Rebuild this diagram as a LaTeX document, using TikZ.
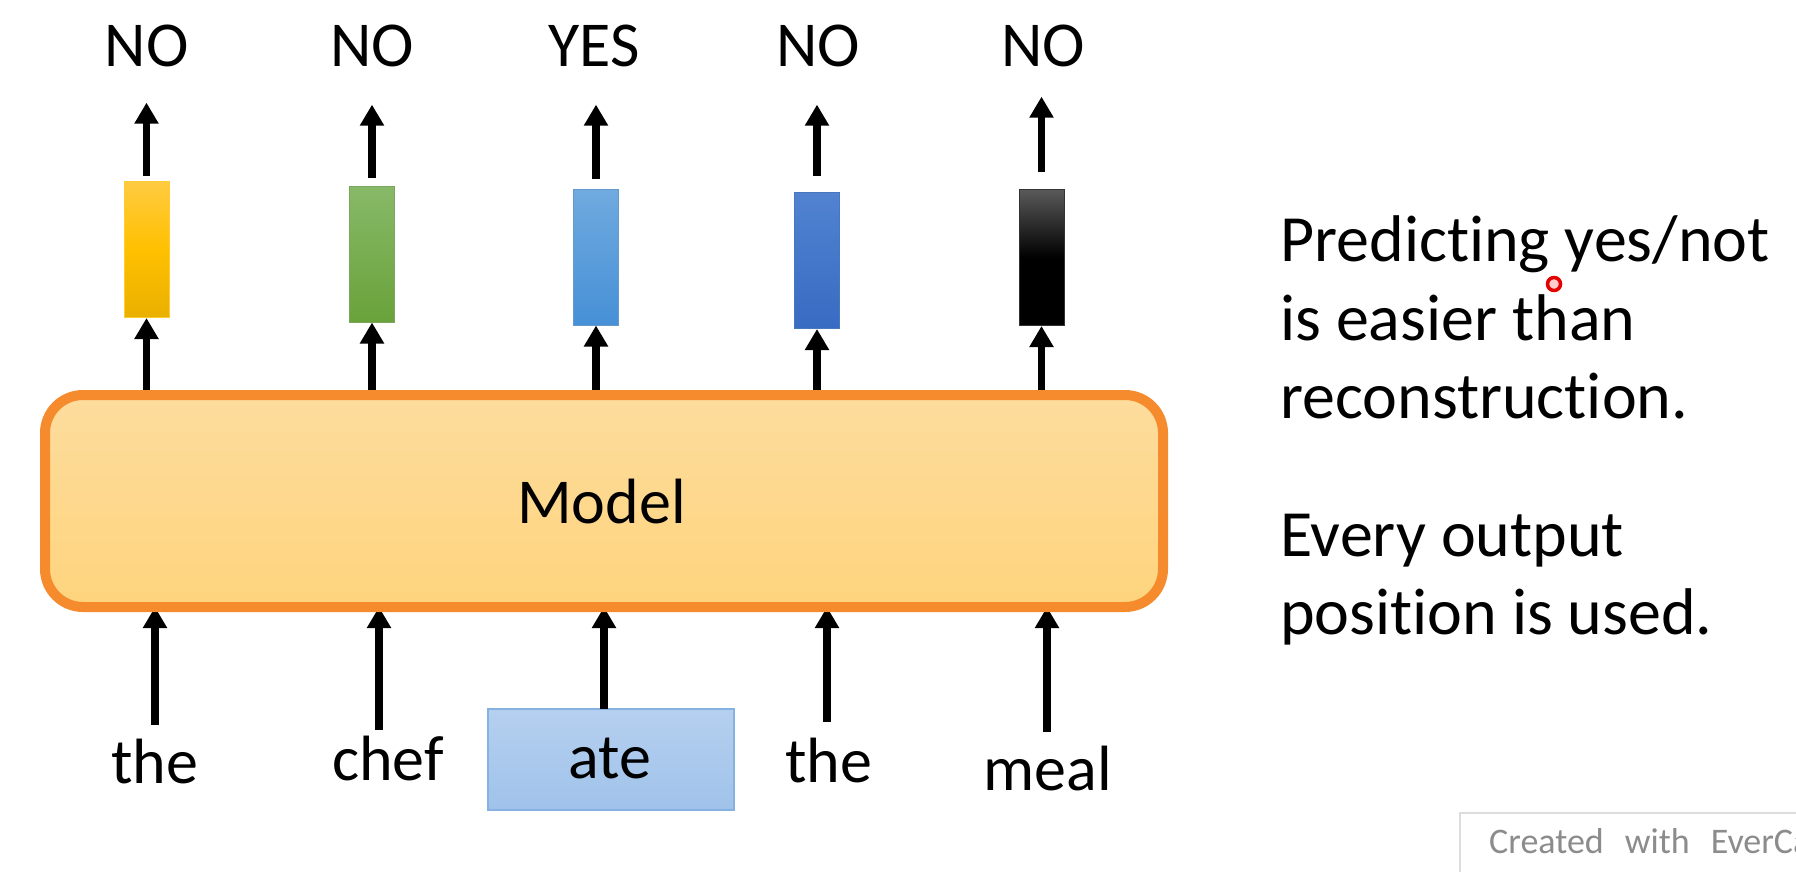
\documentclass[tikz,border=0pt]{standalone}
\usepackage{fontspec}
\setmainfont[Ligatures=NoCommon, RawFeature={-liga;-dlig;-clig}]{Carlito}
\usetikzlibrary{arrows.meta,shadings}
\definecolor{boxborder}{HTML}{F58B2C}
\definecolor{boxtop}{HTML}{FDDC9D}
\definecolor{boxbot}{HTML}{FED47D}
\definecolor{atetop}{HTML}{B5D0EF}
\definecolor{atebot}{HTML}{A0C2EA}
\definecolor{ateborder}{HTML}{86B2E3}
\definecolor{ytop}{HTML}{FFCB40}
\definecolor{ymid}{HTML}{FFC000}
\definecolor{ybot}{HTML}{EAB000}
\definecolor{gtop}{HTML}{88B968}
\definecolor{gbot}{HTML}{69A23A}
\definecolor{lbtop}{HTML}{70AADF}
\definecolor{lbbot}{HTML}{4690D6}
\definecolor{btop}{HTML}{5183D1}
\definecolor{bbot}{HTML}{386BC2}
\definecolor{credgray}{HTML}{8C8C8C}
\definecolor{credborder}{HTML}{DDDDDD}
\tikzset{
  big/.style={font=\fontsize{64}{77}\selectfont, inner sep=0pt, text=black},
  side/.style={font=\fontsize{66}{79}\selectfont, inner sep=0pt, text=black},
  arr/.style={line width=7.5pt, -{Triangle[width=23pt,length=21pt]}},
  bar/.style={minimum width=45pt, minimum height=136pt, inner sep=0pt, line width=1pt},
}
\begin{document}
\begin{tikzpicture}[x=1pt,y=-1pt]
\useasboundingbox (0,0) rectangle (1796,872);
\fill[white] (0,0) rectangle (1796,872);

% output bars
\node[bar, top color=ytop, bottom color=ybot, middle color=ymid, draw=ymid!80!white] (b1) at (146.5,249.5) {};
\node[bar, top color=gtop, bottom color=gbot, draw=gtop!90!black] (b2) at (372,254) {};
\node[bar, top color=lbtop, bottom color=lbbot, draw=lbtop!90!black] (b3) at (596,257) {};
\node[bar, top color=btop, bottom color=bbot, draw=btop!90!black] (b4) at (817,260.5) {};
\node[bar, top color=black!65, bottom color=black, middle color=black, draw=black!80] (b5) at (1041.5,257.5) {};

% output labels
\node[big, anchor=base] (l1) at (146.5,67) {NO};
\node[big, anchor=base] (l2) at (372,67) {NO};
\node[big, anchor=base] (l3) at (594,67) {YES};
\node[big, anchor=base] (l4) at (818,67) {NO};
\node[big, anchor=base] (l5) at (1043,67) {NO};

% arrows bars -> labels
\draw[arr] ([yshift=5pt]b1.north) -- ([yshift=-35pt]l1.south -| b1.north);
\draw[arr] ([yshift=8pt]b2.north) -- ([yshift=-37pt]l2.south -| b2.north);
\draw[arr] ([yshift=10pt]b3.north) -- ([yshift=-37pt]l3.south -| b3.north);
\draw[arr] ([yshift=16pt]b4.north) -- ([yshift=-37pt]l4.south -| b4.north);
\draw[arr] ([yshift=17pt]b5.north) -- ([yshift=-29pt]l5.south -| b5.north);

% model box edges (for arrows)
\coordinate (mtop) at (604,395);
\coordinate (mbot) at (604,607);

% arrows model -> bars
\foreach \i in {1,...,5}{
  \draw[arr] (mtop -| b\i.south) -- (b\i.south);
}

% input words
\node[big, anchor=base] (w1) at (154.5,783) {the};
\node[big, anchor=base] (w2) at (388,780) {chef};
\node[minimum width=246pt, minimum height=101pt, inner sep=0pt, top color=atetop, bottom color=atebot, draw=ateborder, line width=1.5pt] (atebox) at (611,759.5) {};
\node[big, anchor=base] (w3) at (610,778) {ate};
\node[big, anchor=base] (w4) at (829,782) {the};
\node[big, anchor=base] (w5) at (1048,790) {meal};

% arrow tails
\coordinate (s1) at (155,725);
\coordinate (s2) at (379,730);
\coordinate (s3) at (604,709);
\coordinate (s4) at (827,722);
\coordinate (s5) at (1047,732);
\foreach \i in {1,...,5}{
  \draw[arr] (s\i) -- (s\i |- mbot);
}

% model box
\node[minimum width=1118pt, minimum height=212pt, inner sep=0pt, rounded corners=38pt,
      draw=boxborder, line width=10pt, top color=boxtop, bottom color=boxbot] (model) at (604,501) {};
\node[big, anchor=base] (mtext) at (601.5,523) {Model};

% right text
\node[side, anchor=base west] (t1) at (1280,261) {Predicting yes/not};
\node[side, anchor=base west] (t2) at (1280,340) {is easier than};
\node[side, anchor=base west] (t3) at (1280,418) {reconstruction.};
\node[side, anchor=base west] (t4) at (1280,556) {Every output};
\node[side, anchor=base west] (t5) at (1280,634) {position is used.};

% pointer dot
\node[circle, draw=red!90!black, fill=red!20, line width=3.5pt, minimum size=13pt, inner sep=0pt] (dot) at (1554,284) {};

% watermark box
\begin{scope}
\clip (0,0) rectangle (1796,872);
\draw[credborder, line width=2pt, fill=white] (1460,813) rectangle (1810,890);
\node[anchor=base west, inner sep=0pt, text=credgray, font=\fontsize{36}{40}\selectfont] (cred) at (1489,853) {Created\hspace{21pt}with\hspace{21pt}EverCa};
\end{scope}
\end{tikzpicture}
\end{document}
